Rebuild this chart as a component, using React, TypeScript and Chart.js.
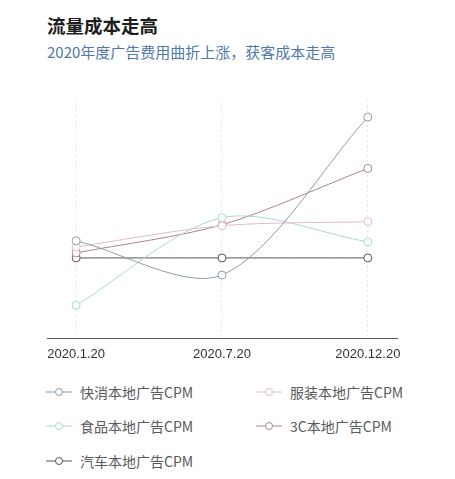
import { useEffect, useRef } from "react";
import { Chart, registerables } from "chart.js";
Chart.register(...registerables);

// dates on the x axis
const dates = ["2020.1.20", "2020.7.20", "2020.12.20"];

// series values (relative CPM level)
const kuaixiao = [97, 63, 220];
const fuzhuang = [91, 112, 116];
const shipin = [33, 120, 96];
const sanC = [85, 113, 169];
const qiche = [80, 80, 80];

const seriesNames = ["快消本地广告CPM", "服装本地广告CPM", "食品本地广告CPM", "3C本地广告CPM", "汽车本地广告CPM"];
const seriesValues = [kuaixiao, fuzhuang, shipin, sanC, qiche];
const seriesColors = ["#8d9daa", "#e2bcc8", "#a9d9d1", "#b27e94", "#555555"];

const CJK = "'Noto Sans CJK SC', 'Liberation Sans', sans-serif";

function CpmChart() {
  const canvasRef = useRef<HTMLCanvasElement>(null);

  useEffect(() => {
    if (!canvasRef.current) return;
    const ctx = canvasRef.current.getContext("2d");
    if (!ctx) return;

    const chart = new Chart(ctx, {
      type: "line",
      data: {
        datasets: seriesNames.map((name, i) => ({
          label: name,
          data: seriesValues[i].map((v, j) => ({ x: j, y: v })),
          borderColor: seriesColors[i],
          backgroundColor: "#ffffff",
          borderWidth: 1,
          pointRadius: 4,
          pointBorderWidth: 1,
          pointBackgroundColor: "#ffffff",
          pointBorderColor: seriesColors[i],
          tension: 0.3,
          fill: false,
        })),
      },
      options: {
        animation: false,
        responsive: true,
        maintainAspectRatio: false,
        layout: { padding: { left: 47, right: 58, top: 10, bottom: 0 } },
        plugins: { legend: { display: false }, tooltip: { enabled: false } },
        scales: {
          x: {
            type: "linear",
            min: -0.2,
            max: 2.2,
            afterBuildTicks: (axis) => {
              axis.ticks = dates.map((_, i) => ({ value: i }));
            },
            ticks: {
              padding: 8,
              color: "#333",
              font: { size: 13, family: "'Liberation Sans', sans-serif" },
              callback: (v) => dates[Number(v)] ?? "",
              maxRotation: 0,
              autoSkip: false,
            },
            grid: { color: "#e6e6e6", drawTicks: false, lineWidth: 1 },
            border: { display: true, color: "#5a5a5a", width: 1, dash: [2, 3] },
          },
          y: { display: false, min: 0, max: 237 },
        },
      },
    });

    return () => chart.destroy();
  }, []);

  return <canvas ref={canvasRef} />;
}

function LegendIcon({ color }: { color: string }) {
  return (
    <svg width="26" height="10" style={{ display: "block" }}>
      <line x1="0" y1="5" x2="26" y2="5" stroke={color} strokeWidth="1" />
      <circle cx="13" cy="5" r="3.5" fill="#fff" stroke={color} strokeWidth="1" />
    </svg>
  );
}

export default function App() {
  const legendPos = [
    { left: 46, top: 392 },
    { left: 256, top: 392 },
    { left: 46, top: 426 },
    { left: 256, top: 426 },
    { left: 46, top: 461 },
  ];
  return (
    <div style={{ position: "absolute", left: 0, top: 0, width: 455, height: 479, background: "#fff", fontFamily: CJK, overflow: "hidden" }}>
      <div style={{ position: "absolute", left: 47, top: 12, fontSize: 18.5, fontWeight: 700, color: "#1e1e1e", lineHeight: "26px" }}>流量成本走高</div>
      <div style={{ position: "absolute", left: 47, top: 41, fontSize: 15, color: "#4f78ad", lineHeight: "22px" }}>2020年度广告费用曲折上涨，获客成本走高</div>
      <div style={{ position: "absolute", left: 0, top: 90, width: 455, height: 280 }}>
        <CpmChart />
      </div>
      {seriesNames.map((name, i) => (
        <div key={name} style={{ position: "absolute", left: legendPos[i].left, top: legendPos[i].top - 11, height: 22, display: "flex", alignItems: "center" }}>
          <LegendIcon color={seriesColors[i]} />
          <span style={{ marginLeft: 8, fontSize: 14, color: "#5a5a5a", lineHeight: "22px", whiteSpace: "nowrap" }}>{name}</span>
        </div>
      ))}
    </div>
  );
}
